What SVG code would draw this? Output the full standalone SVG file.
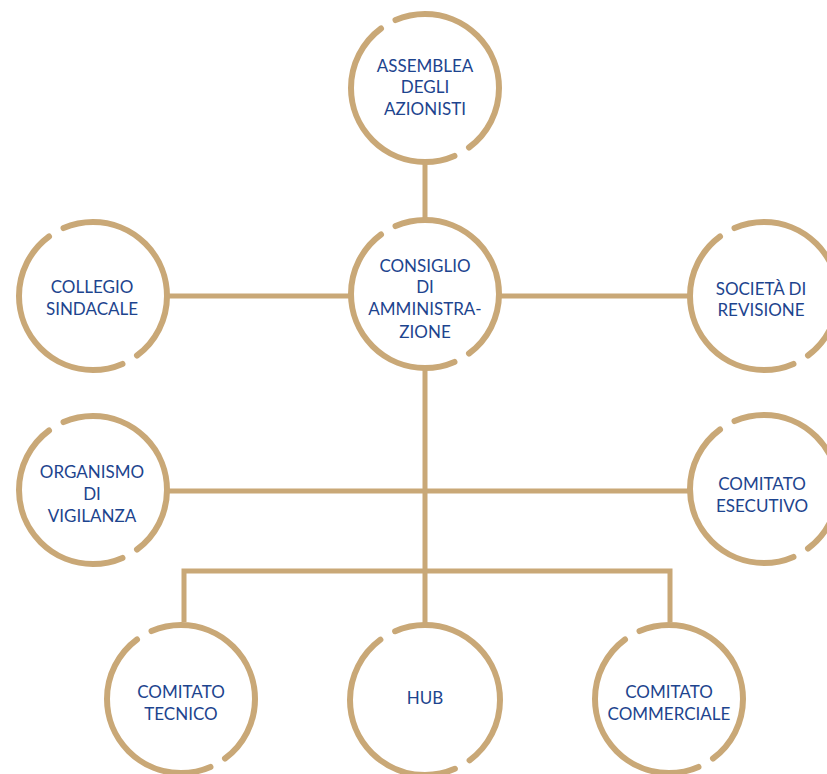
<svg xmlns="http://www.w3.org/2000/svg" width="827" height="774" viewBox="0 0 827 774">
<style>
.ring{fill:none;stroke:#c9a877;stroke-width:6;stroke-linecap:round;stroke-dasharray:167 13;stroke-dashoffset:113.5}
.conn{fill:none;stroke:#c9a877;stroke-width:5}
text{font-family:Lato,"Liberation Sans",sans-serif;font-size:17px;fill:#1d448e;text-anchor:middle}
</style>
<rect width="827" height="774" fill="#ffffff"/>
<g id="connectors">
<line class="conn" x1="425" y1="163" x2="425" y2="220"/>
<line class="conn" x1="425" y1="368" x2="425" y2="624"/>
<line class="conn" x1="168" y1="296" x2="349" y2="296"/>
<line class="conn" x1="501" y1="296" x2="688" y2="296"/>
<line class="conn" x1="169" y1="491" x2="688" y2="491"/>
<polyline class="conn" points="184,622 184,571 670,571 670,622"/>
</g>
<g id="assemblea">
<circle class="ring" cx="425" cy="88" r="74" pathLength="360"/>
<text x="425" y="72">ASSEMBLEA</text>
<text x="425" y="93">DEGLI</text>
<text x="425" y="115">AZIONISTI</text>
</g>
<g id="consiglio">
<circle class="ring" cx="425" cy="294" r="74" pathLength="360"/>
<text x="425" y="272">CONSIGLIO</text>
<text x="425" y="293">DI</text>
<text x="425" y="315">AMMINISTRA-</text>
<text x="425" y="338">ZIONE</text>
</g>
<g id="collegio">
<circle class="ring" cx="93" cy="296" r="74" pathLength="360"/>
<text x="92" y="293">COLLEGIO</text>
<text x="92" y="315">SINDACALE</text>
</g>
<g id="societa">
<circle class="ring" cx="764" cy="296" r="74" pathLength="360"/>
<text x="761" y="295">SOCIETÀ DI</text>
<text x="761" y="316">REVISIONE</text>
</g>
<g id="organismo">
<circle class="ring" cx="93" cy="490" r="74" pathLength="360"/>
<text x="92" y="478">ORGANISMO</text>
<text x="92" y="500">DI</text>
<text x="92" y="522">VIGILANZA</text>
</g>
<g id="esecutivo">
<circle class="ring" cx="764" cy="489" r="74" pathLength="360"/>
<text x="762" y="490">COMITATO</text>
<text x="762" y="512">ESECUTIVO</text>
</g>
<g id="tecnico">
<circle class="ring" cx="181" cy="699" r="74" pathLength="360"/>
<text x="181" y="698">COMITATO</text>
<text x="181" y="720">TECNICO</text>
</g>
<g id="hub">
<circle class="ring" cx="425" cy="700" r="75" pathLength="360"/>
<text x="425" y="704">HUB</text>
</g>
<g id="commerciale">
<circle class="ring" cx="669" cy="699" r="74" pathLength="360"/>
<text x="669" y="698">COMITATO</text>
<text x="669" y="720">COMMERCIALE</text>
</g>
</svg>
